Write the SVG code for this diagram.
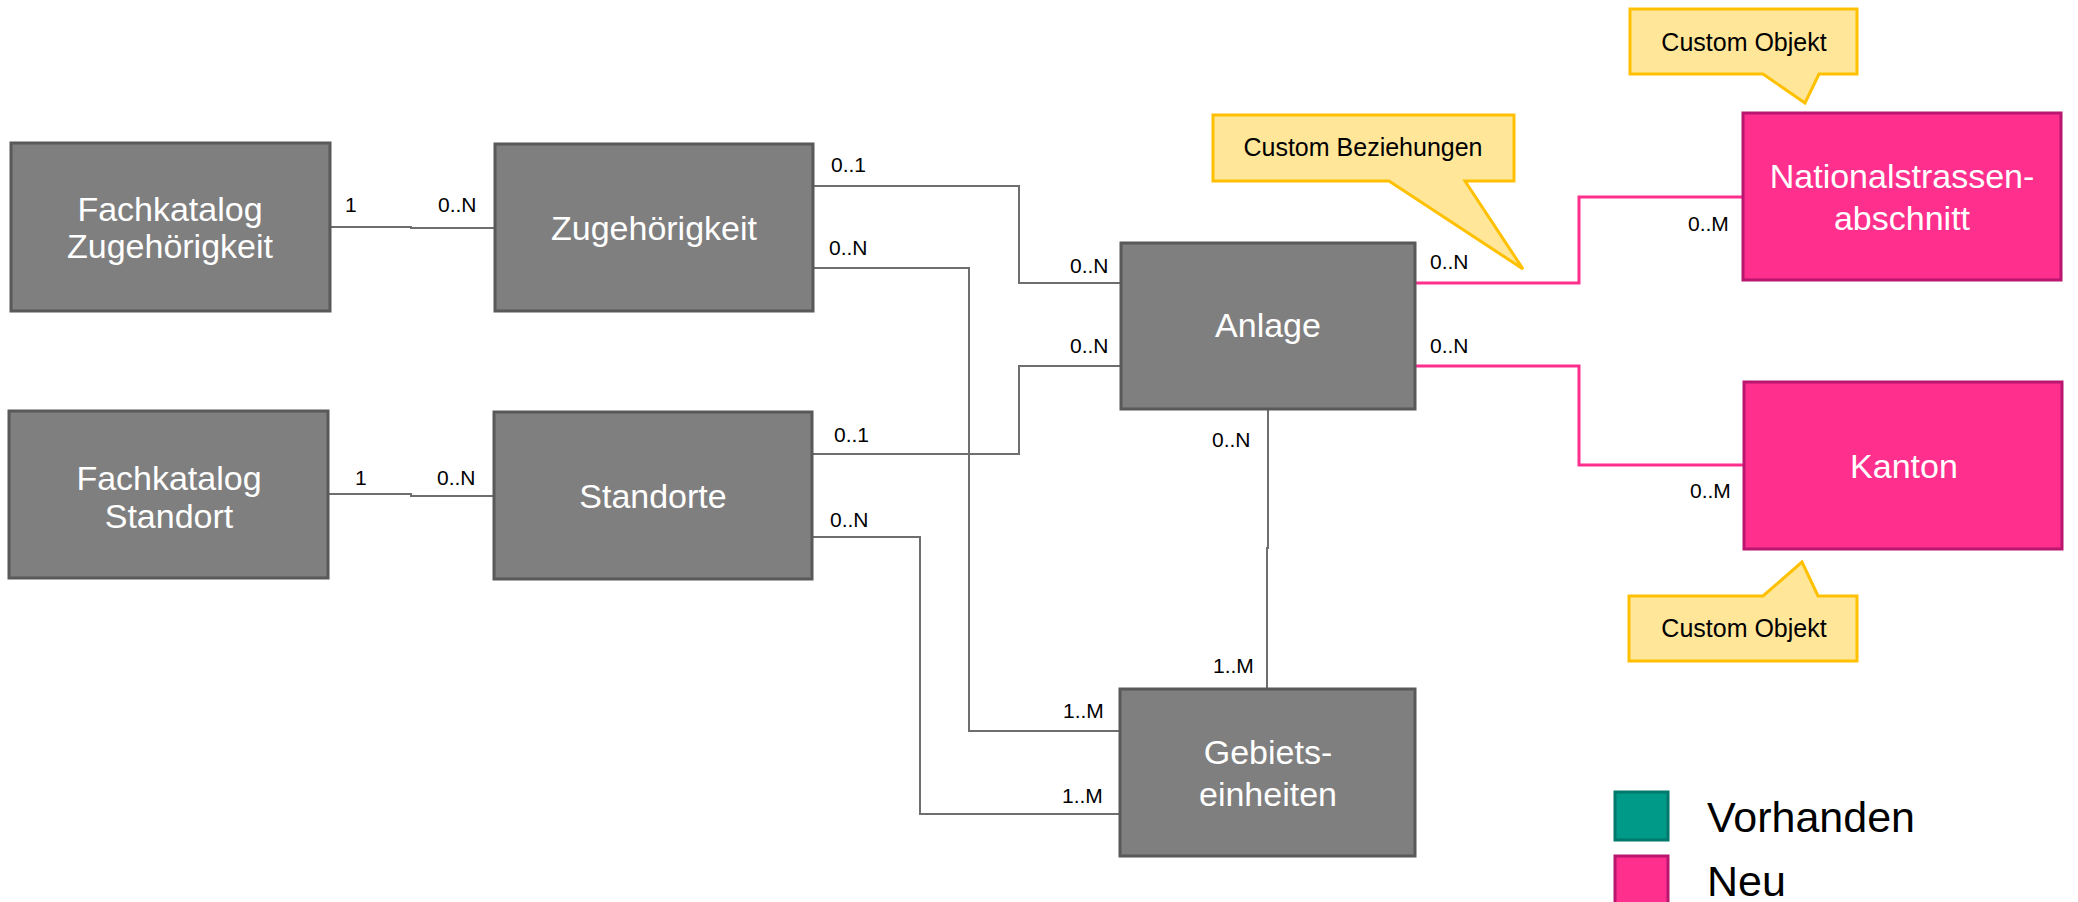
<svg xmlns="http://www.w3.org/2000/svg" width="2078" height="902" viewBox="0 0 2078 902">
<style>
.box{fill:#7F7F7F;stroke:#595959;stroke-width:3}
.new{fill:#FF2F8E;stroke:#B8166F;stroke-width:3}
.old{fill:#009A89;stroke:#00786B;stroke-width:3}
.nt{font-family:"Liberation Sans",Arial,sans-serif;font-size:34px;fill:#FFFFFF;text-anchor:middle}
.lbl{font-family:"Liberation Sans",Arial,sans-serif;font-size:21px;fill:#000000}
.call{fill:#FFE699;stroke:#FFC000;stroke-width:3}
.ct{font-family:"Liberation Sans",Arial,sans-serif;font-size:25px;fill:#000000;text-anchor:middle}
.leg{font-family:"Liberation Sans",Arial,sans-serif;font-size:43px;fill:#000000}
.cn{fill:none;stroke:#6E6E6E;stroke-width:2}
.cp{fill:none;stroke:#FF2F8E;stroke-width:3}
</style>
<rect width="2078" height="902" fill="#FFFFFF"/>
<g id="connectors">
<polyline class="cn" points="330,227 411,227 411,228 494,228"/>
<polyline class="cn" points="328,494 411,494 411,496 494,496"/>
<polyline class="cn" points="813,186 1019,186 1019,283 1121,283"/>
<polyline class="cn" points="813,268 969,268 969,731 1120,731"/>
<polyline class="cn" points="813,454 1019,454 1019,366 1121,366"/>
<polyline class="cn" points="813,537 920,537 920,814 1120,814"/>
<polyline class="cn" points="1268,409 1268,548 1267,548 1267,689"/>
<polyline class="cp" points="1416,283 1579,283 1579,197 1743,197"/>
<polyline class="cp" points="1416,366 1579,366 1579,465 1744,465"/>
<text class="lbl" x="345" y="212">1</text>
<text class="lbl" x="438" y="212">0..N</text>
<text class="lbl" x="355" y="485">1</text>
<text class="lbl" x="437" y="485">0..N</text>
<text class="lbl" x="831" y="172">0..1</text>
<text class="lbl" x="829" y="255">0..N</text>
<text class="lbl" x="1070" y="273">0..N</text>
<text class="lbl" x="1070" y="353">0..N</text>
<text class="lbl" x="834" y="442">0..1</text>
<text class="lbl" x="830" y="527">0..N</text>
<text class="lbl" x="1212" y="447">0..N</text>
<text class="lbl" x="1213" y="673">1..M</text>
<text class="lbl" x="1063" y="718">1..M</text>
<text class="lbl" x="1062" y="803">1..M</text>
<text class="lbl" x="1430" y="269">0..N</text>
<text class="lbl" x="1430" y="353">0..N</text>
<text class="lbl" x="1688" y="231">0..M</text>
<text class="lbl" x="1690" y="498">0..M</text>
</g>
<g id="fk-zugehoerigkeit">
<rect class="box" x="11" y="143" width="319" height="168"/>
<text class="nt" x="170" y="221">Fachkatalog</text>
<text class="nt" x="170" y="258">Zugehörigkeit</text>
</g>
<g id="zugehoerigkeit">
<rect class="box" x="495" y="144" width="318" height="167"/>
<text class="nt" x="654" y="240">Zugehörigkeit</text>
</g>
<g id="fk-standort">
<rect class="box" x="9" y="411" width="319" height="167"/>
<text class="nt" x="169" y="490">Fachkatalog</text>
<text class="nt" x="169" y="528">Standort</text>
</g>
<g id="standorte">
<rect class="box" x="494" y="412" width="318" height="167"/>
<text class="nt" x="653" y="508">Standorte</text>
</g>
<g id="anlage">
<rect class="box" x="1121" y="243" width="294" height="166"/>
<text class="nt" x="1268" y="337">Anlage</text>
</g>
<g id="gebietseinheiten">
<rect class="box" x="1120" y="689" width="295" height="167"/>
<text class="nt" x="1268" y="764">Gebiets-</text>
<text class="nt" x="1268" y="806">einheiten</text>
</g>
<g id="nationalstrassenabschnitt">
<rect class="new" x="1743" y="113" width="318" height="167"/>
<text class="nt" x="1902" y="188">Nationalstrassen-</text>
<text class="nt" x="1902" y="230">abschnitt</text>
</g>
<g id="kanton">
<rect class="new" x="1744" y="382" width="318" height="167"/>
<text class="nt" x="1904" y="478">Kanton</text>
</g>
<g id="callout-objekt-top">
<path class="call" d="M1630,9 H1857 V74 H1819 L1805,103 L1763,74 H1630 Z"/>
<text class="ct" x="1744" y="51">Custom Objekt</text>
</g>
<g id="callout-beziehungen">
<path class="call" d="M1213,115 H1514 V181 H1465 L1523,269 L1389,181 H1213 Z"/>
<text class="ct" x="1363" y="156">Custom Beziehungen</text>
</g>
<g id="callout-objekt-bottom">
<path class="call" d="M1629,596 H1763 L1802,562 L1818,596 H1857 V661 H1629 Z"/>
<text class="ct" x="1744" y="637">Custom Objekt</text>
</g>
<g id="legend">
<rect class="old" x="1615" y="792" width="53" height="48"/>
<text class="leg" x="1707" y="832">Vorhanden</text>
<rect class="new" x="1615" y="856" width="53" height="48"/>
<text class="leg" x="1707" y="896">Neu</text>
</g>
</svg>
